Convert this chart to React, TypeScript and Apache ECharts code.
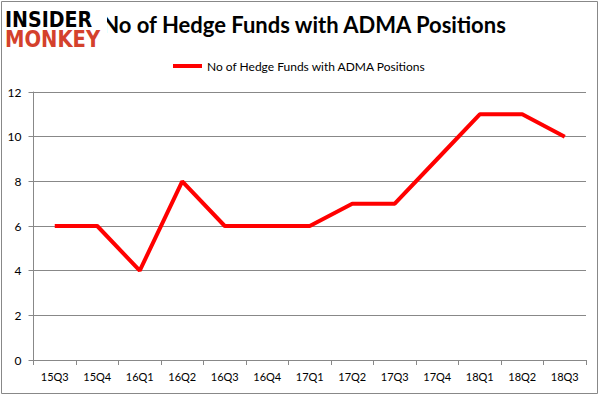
import React, { useEffect, useRef } from "react";
import * as echarts from "echarts";

const categories = ["15Q3", "15Q4", "16Q1", "16Q2", "16Q3", "16Q4", "17Q1", "17Q2", "17Q3", "17Q4", "18Q1", "18Q2", "18Q3"];
const values = [6, 6, 4, 8, 6, 6, 6, 7, 7, 9, 11, 11, 10];
const seriesName = "No of Hedge Funds with ADMA Positions";
const titleText = "No of Hedge Funds with ADMA Positions";

export default function App() {
  const ref = useRef<HTMLDivElement>(null);
  useEffect(() => {
    if (!ref.current) return;
    const chart = echarts.init(ref.current, undefined, { renderer: "svg" });
    chart.setOption({
      animation: false,
      backgroundColor: "#ffffff",
      title: {
        text: titleText,
        left: 299,
        textAlign: "center",
        top: 8,
        textStyle: { fontFamily: "Lato", fontWeight: "bold", fontSize: 22, color: "#000" },
      },
      legend: {
        data: [{ name: seriesName, icon: "rect" }],
        top: 55,
        left: 168,
        itemWidth: 29,
        itemHeight: 4,
        itemGap: 5,
        textStyle: { fontFamily: "Lato", fontSize: 12, color: "#000" },
      },
      grid: { left: 33.5, right: 15, top: 92, bottom: 36, containLabel: false },
      xAxis: {
        type: "category",
        data: categories,
        boundaryGap: true,
        axisLine: { lineStyle: { color: "#888", width: 1 } },
        axisTick: { show: true, length: 5, lineStyle: { color: "#888" } },
        axisLabel: { fontFamily: "Lato", fontSize: 11, color: "#000", margin: 11 },
      },
      yAxis: {
        type: "value",
        min: 0,
        max: 12,
        interval: 2,
        axisLine: { show: true, lineStyle: { color: "#888", width: 1 } },
        axisTick: { show: true, length: 5, lineStyle: { color: "#888" } },
        splitLine: { lineStyle: { color: "#888", width: 1 } },
        axisLabel: { fontFamily: "Lato", fontSize: 12, color: "#000", margin: 12 },
      },
      series: [
        {
          name: seriesName,
          type: "line",
          data: values,
          showSymbol: false,
          symbol: "none",
          lineStyle: { color: "#ff0000", width: 4 },
          itemStyle: { color: "#ff0000" },
        },
      ],
      graphic: [
        {
          type: "rect",
          shape: { x: 1.5, y: 1.5, width: 596, height: 392 },
          style: { fill: "none", stroke: "#888", lineWidth: 1 },
          z: 100,
        },
        {
          type: "rect",
          shape: { x: 4, y: 6, width: 103, height: 44 },
          style: { fill: "#ffffff" },
          z: 101,
        },
        {
          type: "text",
          x: 5,
          y: 8,
          scaleX: 1.12,
          scaleY: 1.3,
          style: { text: "INSIDER", fontFamily: "DejaVu Sans", fontWeight: "bold", fontSize: 17, fill: "#000" },
          z: 102,
        },
        {
          type: "text",
          x: 5,
          y: 29,
          scaleX: 1.15,
          scaleY: 1.3,
          style: { text: "MONKEY", fontFamily: "DejaVu Sans", fontWeight: "bold", fontSize: 17, fill: "#d4412c" },
          z: 102,
        },
      ],
    });
    return () => chart.dispose();
  }, []);
  return <div ref={ref} style={{ position: "absolute", left: 0, top: 0, width: 601, height: 396 }} />;
}
